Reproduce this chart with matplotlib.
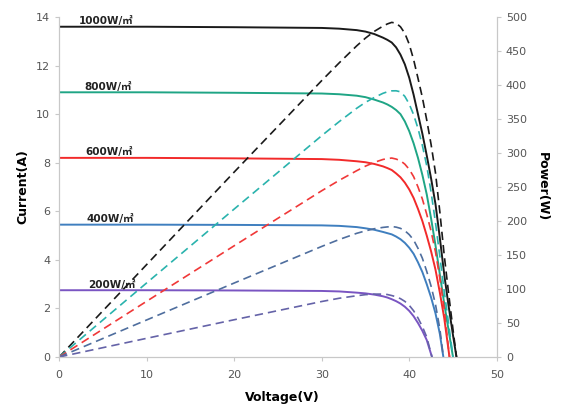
import matplotlib.pyplot as plt

# I-V and P-V curves, one set per irradiance level
labels = ['1000W/㎡', '800W/㎡', '600W/㎡', '400W/㎡', '200W/㎡']

v_1000 = [0, 10, 20, 30, 32, 34, 35, 36, 37, 37.5, 38, 38.5, 39, 39.5, 40, 40.5, 41, 41.5, 42, 42.5, 43, 43.5, 44, 44.5, 45, 45.4]
i_1000 = [13.6, 13.6, 13.58, 13.55, 13.52, 13.46, 13.4, 13.3, 13.15, 13.06, 12.95, 12.75, 12.45, 12.05, 11.5, 10.8, 10.0, 9.2, 8.3, 7.35, 6.3, 4.9, 3.4, 2.1, 0.9, 0]
p_1000 = [0, 136, 272, 406.5, 432.6, 457.6, 469, 478.8, 486.6, 489.8, 492.1, 490.9, 485.6, 476, 460, 437.4, 410, 381.8, 348.6, 312.4, 270.9, 213.2, 149.6, 93.5, 40.5, 0]

v_800 = [0, 10, 20, 30, 32, 34, 35, 36, 37, 37.5, 38, 38.5, 39, 39.5, 40, 40.5, 41, 41.5, 42, 42.5, 43, 43.5, 44, 44.5, 45]
i_800 = [10.9, 10.9, 10.88, 10.85, 10.82, 10.76, 10.7, 10.6, 10.48, 10.4, 10.3, 10.17, 10.0, 9.7, 9.3, 8.8, 8.2, 7.5, 6.7, 5.7, 4.6, 3.4, 2.2, 1.1, 0]
p_800 = [0, 109, 217.6, 325.5, 346.2, 365.8, 374.5, 381.6, 387.8, 390, 391.4, 391.5, 390, 383.2, 372, 356.4, 336.2, 311.3, 281.4, 242.3, 197.8, 147.9, 96.8, 49, 0]

v_600 = [0, 10, 20, 30, 32, 34, 35, 36, 37, 37.5, 38, 38.5, 39, 39.5, 40, 40.5, 41, 41.5, 42, 42.5, 43, 43.5, 44, 44.6]
i_600 = [8.2, 8.2, 8.18, 8.15, 8.12, 8.06, 8.02, 7.95, 7.85, 7.78, 7.7, 7.56, 7.4, 7.18, 6.9, 6.55, 6.1, 5.6, 5.0, 4.35, 3.6, 2.65, 1.6, 0]
p_600 = [0, 82, 163.6, 244.5, 259.8, 274, 280.7, 286.2, 290.5, 291.8, 292.6, 291.1, 288.6, 283.6, 276, 265.3, 250.1, 232.4, 210, 184.9, 154.8, 115.3, 70.4, 0]

v_400 = [0, 10, 20, 30, 32, 34, 35, 36, 37, 37.5, 38, 38.5, 39, 39.5, 40, 40.5, 41, 41.5, 42, 42.5, 43, 43.5, 43.9]
i_400 = [5.45, 5.45, 5.44, 5.42, 5.4, 5.35, 5.3, 5.24, 5.15, 5.1, 5.05, 4.96, 4.85, 4.7, 4.5, 4.25, 3.9, 3.5, 3.0, 2.45, 1.8, 0.95, 0]
p_400 = [0, 54.5, 108.8, 162.6, 172.8, 181.9, 185.5, 188.6, 190.6, 191.3, 191.9, 191, 189.2, 185.7, 180, 172.1, 159.9, 145.3, 126, 104.1, 77.4, 41.3, 0]

v_200 = [0, 10, 20, 30, 32, 34, 35, 36, 37, 37.5, 38, 38.5, 39, 39.5, 40, 40.5, 41, 41.5, 42, 42.6]
i_200 = [2.75, 2.75, 2.74, 2.72, 2.7, 2.65, 2.62, 2.57, 2.5, 2.45, 2.38, 2.3, 2.2, 2.07, 1.9, 1.68, 1.4, 1.08, 0.7, 0]
p_200 = [0, 27.5, 54.8, 81.6, 86.4, 90.1, 91.7, 92.5, 92.5, 91.9, 90.4, 88.6, 85.8, 81.8, 76, 68, 57.4, 44.8, 29.4, 0]

volts = [v_1000, v_800, v_600, v_400, v_200]
currents = [i_1000, i_800, i_600, i_400, i_200]
powers = [p_1000, p_800, p_600, p_400, p_200]

solid_colors = ['#1a1a1a', '#1fa585', '#f22a2a', '#3f7fbf', '#7a55c2']
dash_colors = ['#1a1a1a', '#2ab3ad', '#f03838', '#4f6e9e', '#6563a8']
label_pos = [(2.2, 13.62), (2.9, 10.92), (3.0, 8.22), (3.1, 5.47), (3.3, 2.77)]

fig = plt.figure(figsize=(5.69, 4.05), dpi=100)
ax = fig.add_axes([0.104, 0.1185, 0.769, 0.8395])
ax2 = ax.twinx()

for v, cur, col, lab, pos in zip(volts, currents, solid_colors, labels, label_pos):
    ax.plot(v, cur, color=col, lw=1.4)
    ax.text(pos[0], pos[1], lab, fontsize=7.5, fontweight='bold', color='#222222',
            family=['DejaVu Sans', 'Noto Sans CJK SC'], va='bottom', ha='left')

for v, p, col in zip(volts, powers, dash_colors):
    ax2.plot(v, p, color=col, lw=1.2, ls=(0, (5, 3)))

ax.set_xlim(0, 50)
ax.set_ylim(0, 14)
ax2.set_ylim(0, 500)
ax.set_xticks(range(0, 51, 10))
ax.set_yticks(range(0, 15, 2))
ax2.set_yticks(range(0, 501, 50))

ax.set_xlabel('Voltage(V)', fontweight='bold', fontsize=9)
ax.xaxis.set_label_coords(0.51, -0.1)
ax.set_ylabel('Current(A)', fontweight='bold', fontsize=9, labelpad=5)
ax2.set_ylabel('Power(W)', fontweight='bold', fontsize=9, rotation=270, labelpad=16)

for a in (ax, ax2):
    a.spines['top'].set_visible(False)
    for s in ('left', 'right', 'bottom'):
        a.spines[s].set_color('#c8c8c8')
        a.spines[s].set_linewidth(0.8)
    a.tick_params(colors='#c8c8c8', labelcolor='#555555', labelsize=8, length=3, width=0.8)
ax.tick_params(axis='x', pad=6)

fig.savefig('out.png', dpi=100)
